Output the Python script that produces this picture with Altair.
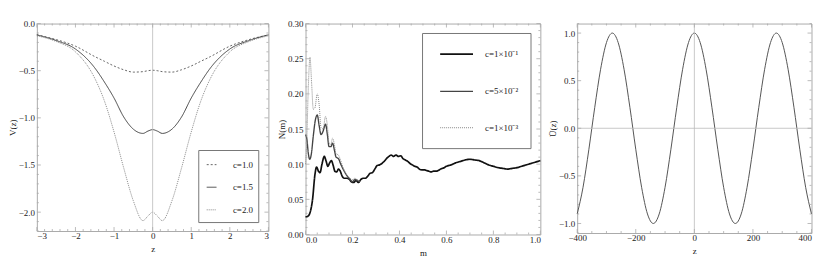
import altair as alt
import pandas as pd
import numpy as np

FONT = "Liberation Serif"
FRAME = "#aaaaaa"
TXT = "#222222"
LEGSTROKE = "#777777"

# ---------------- Panel 1 : V(z) ----------------
z1 = [-3, -2.5, -2, -1.5, -1.25, -1, -0.75, -0.5, -0.25, -0.12, 0,
      0.12, 0.25, 0.5, 0.75, 1, 1.25, 1.5, 2, 2.5, 3]
v_c10 = [-0.12, -0.17, -0.24, -0.35, -0.40, -0.45, -0.49, -0.515, -0.51, -0.50, -0.495,
         -0.50, -0.51, -0.515, -0.49, -0.45, -0.40, -0.35, -0.24, -0.17, -0.12]
v_c15 = [-0.12, -0.18, -0.27, -0.47, -0.62, -0.79, -0.99, -1.12, -1.165, -1.14, -1.125,
         -1.14, -1.165, -1.12, -0.99, -0.79, -0.62, -0.47, -0.27, -0.18, -0.12]
v_c20 = [-0.13, -0.19, -0.30, -0.58, -0.82, -1.15, -1.53, -1.88, -2.09, -2.04, -2.00,
         -2.04, -2.09, -1.88, -1.53, -1.15, -0.82, -0.58, -0.30, -0.19, -0.13]
c1_labels = ["c=1.0", "c=1.5", "c=2.0"]

# ---------------- Panel 2 : N(m) ----------------
m_a = [0.000, 0.010, 0.020, 0.030, 0.040, 0.047, 0.055, 0.062, 0.070, 0.080, 0.088, 0.095,
       0.103, 0.110, 0.118, 0.125, 0.133, 0.140, 0.148, 0.156, 0.165, 0.175, 0.185, 0.195,
       0.205, 0.215, 0.225, 0.235, 0.245, 0.255, 0.265, 0.275, 0.285, 0.295, 0.305, 0.315,
       0.325, 0.335, 0.345, 0.355, 0.365, 0.375, 0.385, 0.395, 0.405, 0.415, 0.425, 0.435,
       0.445, 0.455, 0.465, 0.475, 0.485, 0.495, 0.505, 0.515, 0.525, 0.535, 0.545, 0.555,
       0.565, 0.575, 0.590, 0.600, 0.620, 0.640, 0.660, 0.680, 0.700, 0.720, 0.740, 0.760,
       0.780, 0.800, 0.820, 0.840, 0.860, 0.880, 0.900, 0.920, 0.940, 0.960, 0.980, 1.000]
n_a = [0.025, 0.026, 0.032, 0.050, 0.085, 0.096, 0.090, 0.088, 0.100, 0.111, 0.104, 0.097,
       0.102, 0.105, 0.098, 0.090, 0.089, 0.093, 0.090, 0.083, 0.080, 0.080, 0.079, 0.075,
       0.074, 0.077, 0.074, 0.078, 0.080, 0.080, 0.083, 0.087, 0.088, 0.093, 0.098, 0.099,
       0.101, 0.104, 0.108, 0.111, 0.113, 0.111, 0.113, 0.111, 0.112, 0.108, 0.106, 0.104,
       0.101, 0.099, 0.097, 0.096, 0.093, 0.092, 0.092, 0.091, 0.090, 0.089, 0.090, 0.090,
       0.091, 0.093, 0.095, 0.097, 0.099, 0.102, 0.104, 0.106, 0.107, 0.106, 0.105, 0.102,
       0.099, 0.097, 0.095, 0.094, 0.093, 0.094, 0.095, 0.097, 0.099, 0.101, 0.103, 0.105]

m_b = [0.000, 0.006, 0.012, 0.018, 0.025, 0.033, 0.042, 0.050, 0.058, 0.066, 0.075, 0.085,
       0.093, 0.100, 0.108, 0.115, 0.123, 0.130, 0.140, 0.150, 0.160, 0.170, 0.180, 0.190,
       0.200, 0.210, 0.220, 0.230]
n_b = [0.142, 0.135, 0.115, 0.107, 0.115, 0.140, 0.163, 0.170, 0.155, 0.142, 0.147, 0.157,
       0.142, 0.125, 0.125, 0.130, 0.120, 0.110, 0.108, 0.100, 0.093, 0.087, 0.082, 0.078,
       0.075, 0.078, 0.077, 0.075]

m_c = [0.000, 0.005, 0.012, 0.019, 0.026, 0.033, 0.040, 0.050, 0.058, 0.066, 0.075, 0.085,
       0.093, 0.100, 0.108, 0.115, 0.123, 0.130, 0.140, 0.150, 0.160, 0.170, 0.180, 0.190,
       0.200, 0.210, 0.220, 0.230]
n_c = [0.100, 0.130, 0.210, 0.252, 0.215, 0.178, 0.180, 0.200, 0.185, 0.152, 0.150, 0.168,
       0.155, 0.130, 0.128, 0.137, 0.128, 0.115, 0.113, 0.105, 0.095, 0.088, 0.083, 0.080,
       0.078, 0.080, 0.078, 0.076]
c2_labels = ["c=1×10⁻¹", "c=5×10⁻²", "c=1×10⁻³"]

# ---------------- Panel 3 : U(z) ----------------
z3 = [-400, -380, -360, -340, -320, -300, -280, -260, -240, -220, -200, -180, -160, -140,
      -120, -100, -80, -60, -40, -20, 0, 20, 40, 60, 80, 100, 120, 140, 160, 180, 200,
      220, 240, 260, 280, 300, 320, 340, 360, 380, 400]
u3 = [-0.90, -0.62, -0.22, 0.22, 0.62, 0.90, 1.00, 0.90, 0.62, 0.22, -0.22, -0.62, -0.90,
      -1.00, -0.90, -0.62, -0.22, 0.22, 0.62, 0.90, 1.00, 0.90, 0.62, 0.22, -0.22, -0.62,
      -0.90, -1.00, -0.90, -0.62, -0.22, 0.22, 0.62, 0.90, 1.00, 0.90, 0.62, 0.22, -0.22,
      -0.62, -0.90]


def sc(dom):
    return alt.Scale(domain=dom, nice=False, zero=False)


def ticks_layers(xmaj, xmin, ymaj, ymin, xs, ys, xax, yax, W, H):
    out = []
    for vals, L in ((xmaj, 4), (xmin, 2)):
        df = pd.DataFrame({"t": vals})
        for y0, y1 in ((H, H - L), (0, L)):
            out.append(alt.Chart(df).mark_rule(color=FRAME, strokeWidth=0.8).encode(
                x=alt.X("t:Q", scale=xs, axis=xax), y=alt.value(y0), y2=alt.value(y1)))
    for vals, L in ((ymaj, 4), (ymin, 2)):
        df = pd.DataFrame({"t": vals})
        for x0, x1 in ((0, L), (W, W - L)):
            out.append(alt.Chart(df).mark_rule(color=FRAME, strokeWidth=0.8).encode(
                y=alt.Y("t:Q", scale=ys, axis=yax), x=alt.value(x0), x2=alt.value(x1)))
    return out


def minors(lo, hi, step, majors):
    vals = np.round(np.arange(lo, hi + step / 2, step), 6)
    return [float(v) for v in vals if not np.any(np.isclose(v, majors))]


def legend_layers(labels, enc, box, row_y, sym_x, lab_x):
    out = [alt.Chart(pd.DataFrame({"b": [0]})).mark_rect(
        fill="white", stroke=LEGSTROKE, strokeWidth=1).encode(
        x=alt.value(box[0]), x2=alt.value(box[1]), y=alt.value(box[2]), y2=alt.value(box[3]))]
    for i, lab in enumerate(labels):
        df = pd.DataFrame({"c": [lab]})
        out.append(alt.Chart(df).mark_rule().encode(
            x=alt.value(sym_x[0]), x2=alt.value(sym_x[1]), y=alt.value(row_y[i]), **enc))
        out.append(alt.Chart(df).mark_text(align="left", baseline="middle", font=FONT,
                                           fontSize=9, color=TXT).encode(
            x=alt.value(lab_x), y=alt.value(row_y[i]), text="c:N"))
    return out


# ---------- Panel 1 chart ----------
W1, H1 = 232.7, 208.5
df1 = pd.DataFrame({
    "z": z1 * 3,
    "V": v_c10 + v_c15 + v_c20,
    "c": [c1_labels[0]] * len(z1) + [c1_labels[1]] * len(z1) + [c1_labels[2]] * len(z1),
})
xd1, yd1 = [-3, 3], [-2.2, 0]
xmaj1 = [-3, -2, -1, 0, 1, 2, 3]
ymaj1 = [-2.0, -1.5, -1.0, -0.5, 0.0]
xax1 = alt.Axis(values=xmaj1, format="d", title="z")
yax1 = alt.Axis(values=ymaj1, format=".1f", title="V(z)")
enc1 = dict(
    color=alt.Color("c:N", scale=alt.Scale(domain=c1_labels, range=["#666666", "#444444", "#8a8a8a"]),
                    legend=None),
    strokeDash=alt.StrokeDash("c:N", scale=alt.Scale(domain=c1_labels, range=[[2, 2], [1, 0], [1, 1]]),
                              legend=None),
)
line1 = alt.Chart(df1).mark_line(interpolate="monotone", strokeWidth=1).encode(
    x=alt.X("z:Q", scale=sc(xd1), axis=xax1),
    y=alt.Y("V:Q", scale=sc(yd1), axis=yax1),
    **enc1,
)
zero1 = alt.Chart(pd.DataFrame({"x0": [0]})).mark_rule(color="#bbbbbb", strokeWidth=0.8).encode(
    x=alt.X("x0:Q", scale=sc(xd1), axis=xax1))
p1 = alt.layer(
    line1, zero1,
    *ticks_layers(xmaj1, minors(-3, 3, 0.2, xmaj1), ymaj1, minors(-2.2, 0, 0.1, ymaj1),
                  sc(xd1), sc(yd1), xax1, yax1, W1, H1),
    *legend_layers(c1_labels, enc1, (162.7, 223, 127.6, 200), (141.8, 164.5, 187.2),
                   (170.7, 180.5), 197),
).properties(width=W1, height=H1)

# ---------- Panel 2 chart ----------
W2, H2 = 236, 212
df2 = pd.DataFrame({
    "m": m_a + m_b + m_c,
    "N": n_a + n_b + n_c,
    "c": [c2_labels[0]] * len(m_a) + [c2_labels[1]] * len(m_b) + [c2_labels[2]] * len(m_c),
})
xd2, yd2 = [0, 1], [0, 0.3]
xmaj2 = [0.0, 0.2, 0.4, 0.6, 0.8, 1.0]
ymaj2 = [0.0, 0.05, 0.10, 0.15, 0.20, 0.25, 0.30]
xax2 = alt.Axis(values=xmaj2, format=".1f", title="m")
yax2 = alt.Axis(values=ymaj2, format=".2f", title="N(m)")
enc2 = dict(
    color=alt.Color("c:N", scale=alt.Scale(domain=c2_labels, range=["#111111", "#444444", "#888888"]),
                    legend=None),
    strokeDash=alt.StrokeDash("c:N", scale=alt.Scale(domain=c2_labels, range=[[1, 0], [1, 0], [1, 1]]),
                              legend=None),
    strokeWidth=alt.StrokeWidth("c:N", scale=alt.Scale(domain=c2_labels, range=[1.7, 1.0, 1.0]),
                                legend=None),
)
line2 = alt.Chart(df2).mark_line(interpolate="monotone").encode(
    x=alt.X("m:Q", scale=sc(xd2), axis=xax2),
    y=alt.Y("N:Q", scale=sc(yd2), axis=yax2),
    **enc2,
)
p2 = alt.layer(
    line2,
    *ticks_layers(xmaj2, minors(0, 1, 0.05, xmaj2), ymaj2, minors(0, 0.3, 0.01, ymaj2),
                  sc(xd2), sc(yd2), xax2, yax2, W2, H2),
    *legend_layers(c2_labels, enc2, (117.6, 226.6, 10, 125.7), (30.7, 68.2, 104.7),
                   (135.3, 168.3), 180.3),
).properties(width=W2, height=H2)

# ---------- Panel 3 chart ----------
W3, H3 = 235.5, 210.5
df3 = pd.DataFrame({"z": z3, "U": u3})
xd3, yd3 = [-400, 400], [-1.1, 1.1]
xmaj3 = [-400, -200, 0, 200, 400]
ymaj3 = [-1.0, -0.5, 0.0, 0.5, 1.0]
xax3 = alt.Axis(values=xmaj3, format="d", title="z",
                labelAlign={"expr": "datum.value >= 400 ? 'right' : 'center'"})
yax3 = alt.Axis(values=ymaj3, format=".1f", title="Ū(z)")
line3 = alt.Chart(df3).mark_line(interpolate="monotone", color="#555555", strokeWidth=1).encode(
    x=alt.X("z:Q", scale=sc(xd3), axis=xax3),
    y=alt.Y("U:Q", scale=sc(yd3), axis=yax3),
)
zx3 = alt.Chart(pd.DataFrame({"x0": [0]})).mark_rule(color="#bbbbbb", strokeWidth=0.8).encode(
    x=alt.X("x0:Q", scale=sc(xd3), axis=xax3))
zy3 = alt.Chart(pd.DataFrame({"y0": [0]})).mark_rule(color="#bbbbbb", strokeWidth=0.8).encode(
    y=alt.Y("y0:Q", scale=sc(yd3), axis=yax3))
p3 = alt.layer(
    line3, zx3, zy3,
    *ticks_layers(xmaj3, minors(-400, 400, 50, xmaj3), ymaj3, minors(-1.1, 1.1, 0.1, ymaj3),
                  sc(xd3), sc(yd3), xax3, yax3, W3, H3),
).properties(width=W3, height=H3)

chart = alt.hconcat(p1, p2, p3, spacing=37, bounds="flush").resolve_scale(
    color="independent", strokeDash="independent", strokeWidth="independent"
).properties(
    padding={"left": 0, "top": 10, "right": 0, "bottom": 0}
).configure_view(stroke=FRAME, strokeWidth=1).configure_axis(
    ticks=False, domain=False, grid=False, labelFont=FONT, labelFontSize=9, labelColor=TXT,
    titleFont=FONT, titleFontSize=9, titleFontWeight="normal", titleColor=TXT,
).configure_axisY(labelPadding=2.5, titlePadding=0.5
).configure_axisX(labelPadding=1, titlePadding=4)

chart.save("out.html", embed_options={"renderer": "svg", "actions": False})
